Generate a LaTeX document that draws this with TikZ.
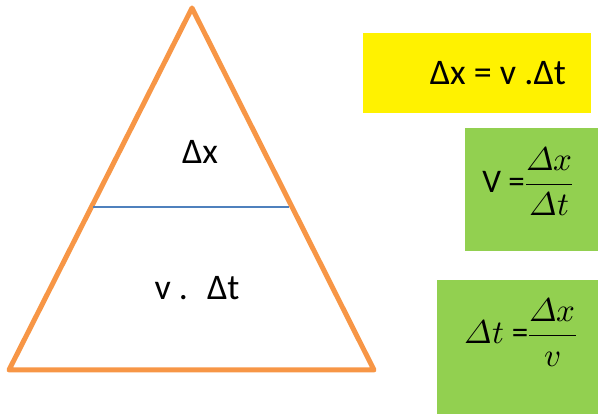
\documentclass[tikz,border=0pt]{standalone}
\usepackage{fontspec}
\usepackage[math-style=ISO]{unicode-math}
\setmainfont{Carlito}
\setmathfont{Latin Modern Math}
\usepackage{tikz}
\definecolor{triorange}{HTML}{F79646}
\definecolor{divblue}{HTML}{4F81BD}
\definecolor{boxgreen}{HTML}{92D050}
\begin{document}
\begin{tikzpicture}[x=1pt, y=-1pt, every node/.style={font=\fontsize{36}{42}\selectfont, inner sep=0pt}]
	\useasboundingbox (0,0) rectangle (598,414);
	% triangle
	\draw[triorange, line width=5pt, line join=round] (192,8) -- (374,370) -- (9,370) -- cycle;
	\draw[divblue, line width=1.3pt] (93,207) -- (289,207);
	\node (dx) at (200,152) {Δx};
	\node (vdt) at (197,288) {v .~ Δt};
	% formula boxes
	\fill[yellow] (363,33) rectangle (591,113);
	\fill[boxgreen] (465,128) rectangle (598,251);
	\fill[boxgreen] (437,280) rectangle (598,414);
	\node (eqdx) at (498,73) {Δx = v .Δt};
	\node (eqv) at (528,181) {\fontsize{33}{40}\selectfont V =$\dfrac{\Delta x}{\Delta t}$};
	\node (eqdt) at (521,332) {\fontsize{33}{40}\selectfont $\Delta t$ =$\dfrac{\Delta x}{v}$};
\end{tikzpicture}
\end{document}
